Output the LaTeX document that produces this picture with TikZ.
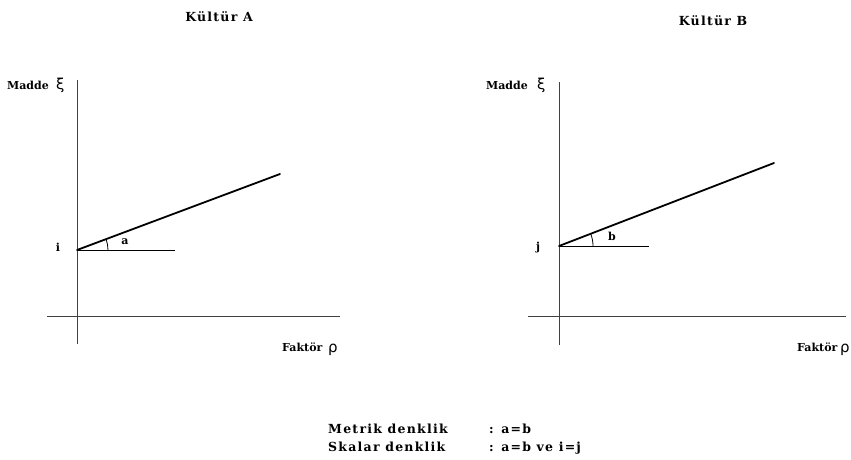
\documentclass[tikz,border=0pt]{standalone}
\usepackage{fontspec}
\setmainfont{Liberation Serif}
\newfontfamily\lblfont{DejaVu Serif}
\newfontfamily\wlblfont{DejaVu Serif}[LetterSpace=10]
\newfontfamily\grfont{DejaVu Sans}
\begin{document}
\begin{tikzpicture}[x=1pt,y=-1pt,
  axis/.style={line width=0.9pt,draw=black!75},
  vec/.style={line width=1.8pt,line cap=round},
  thin/.style={line width=0.8pt},
  lbl/.style={font=\lblfont\bfseries\fontsize{11}{12}\selectfont,inner sep=0pt},
  note/.style={font=\wlblfont\bfseries\fontsize{12.5}{13}\selectfont,inner sep=0pt},
  title/.style={font=\wlblfont\bfseries\fontsize{12.5}{13}\selectfont,inner sep=0pt},
  gr/.style={font=\grfont\fontsize{15}{16}\selectfont,inner sep=0pt}]
\useasboundingbox (0,0) rectangle (851,459);
\fill[white] (0,0) rectangle (851,459);
% ---------- left panel ----------
\coordinate (ay0) at (77,80);
\coordinate (ay1) at (77,344);
\coordinate (ax0) at (47,316);
\coordinate (ax1) at (340,316);
\coordinate (pi) at (77,250);
\coordinate (hi) at (175,250);
\coordinate (ei) at (280,174);
\draw[axis] (ay0) -- (ay1);
\draw[axis] (ax0) -- (ax1);
\draw[thin] (pi) -- (hi);
\draw[vec] (pi) -- (ei);
\draw[thin] ([xshift=31pt]pi) arc[start angle=0,end angle=20.5,radius=31pt];
\node[title,anchor=base] (ta) at (219,21) {Kültür A};
\node[lbl,anchor=base east] (ma) at (49,89) {Madde};
\node[gr,anchor=base west] (xa) at (56,89) {ξ};
\node[lbl,anchor=base west] (fa) at (282,351) {Faktör};
\node[gr,anchor=base west] (ra) at (328,352) {ρ};
\node[lbl,anchor=base] (li) at (58,251) {i};
\node[lbl,anchor=base] (la) at (125,244) {a};
% ---------- right panel ----------
\coordinate (by0) at (559,82);
\coordinate (by1) at (559,345);
\coordinate (bx0) at (528,316);
\coordinate (bx1) at (846,316);
\coordinate (pj) at (559,246);
\coordinate (hj) at (649,246);
\coordinate (ej) at (774,163);
\draw[axis] (by0) -- (by1);
\draw[axis] (bx0) -- (bx1);
\draw[thin] (pj) -- (hj);
\draw[vec] (pj) -- (ej);
\draw[thin] ([xshift=34pt]pj) arc[start angle=0,end angle=21.1,radius=34pt];
\node[title,anchor=base] (tb) at (713,25) {Kültür B};
\node[lbl,anchor=base east] (mb) at (528,89) {Madde};
\node[gr,anchor=base west] (xb) at (537,89) {ξ};
\node[lbl,anchor=base west] (fb) at (797,351) {Faktör};
\node[gr,anchor=base west] (rb) at (840,352) {ρ};
\node[lbl,anchor=base] (lj) at (538,250) {j};
\node[lbl,anchor=base] (lb) at (612,240) {b};
% ---------- bottom ----------
\node[note,anchor=base west] (m1) at (328,433) {Metrik denklik};
\node[note,anchor=base west] (m2) at (489,433) {: a=b};
\node[note,anchor=base west] (s1) at (328,451) {Skalar denklik};
\node[note,anchor=base west] (s2) at (489,451) {: a=b ve i=j};
\end{tikzpicture}
\end{document}
